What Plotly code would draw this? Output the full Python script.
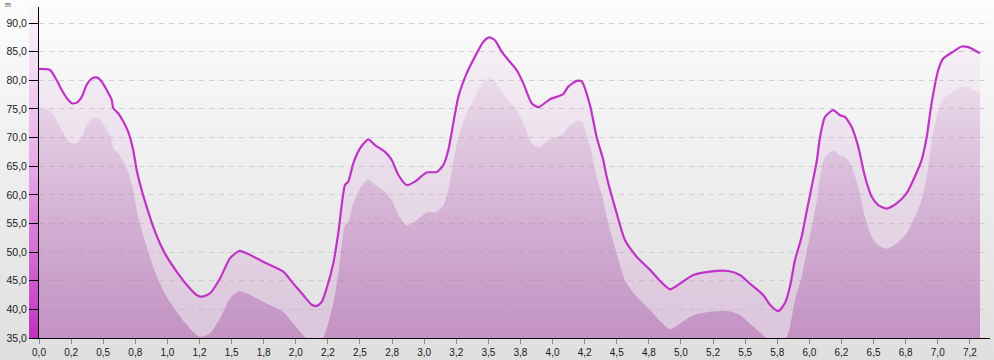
import plotly.graph_objects as go

# ---------------- data (distance in km, elevation in m) ----------------
distance_km = [
    0.000, 0.086, 0.138, 0.177, 0.216, 0.255, 0.294, 0.333, 0.371, 0.410,
    0.449, 0.488, 0.527, 0.566, 0.579, 0.618, 0.657, 0.695, 0.734, 0.761,
    0.800, 0.839, 0.890, 0.942, 0.995, 1.072, 1.150, 1.228, 1.267, 1.332,
    1.410, 1.487, 1.560, 1.617, 1.747, 1.903, 1.981, 2.058, 2.124, 2.163,
    2.202, 2.241, 2.292, 2.331, 2.383, 2.409, 2.448, 2.500, 2.565, 2.617,
    2.695, 2.747, 2.798, 2.864, 2.928, 3.019, 3.097, 3.149, 3.188, 3.266,
    3.331, 3.409, 3.460, 3.507, 3.551, 3.604, 3.668, 3.720, 3.772, 3.837,
    3.889, 3.980, 4.083, 4.122, 4.188, 4.227, 4.291, 4.343, 4.395, 4.421,
    4.499, 4.564, 4.655, 4.759, 4.836, 4.914, 4.992, 5.096, 5.226, 5.368,
    5.460, 5.537, 5.641, 5.693, 5.758, 5.810, 5.849, 5.888, 5.940, 5.979,
    6.018, 6.057, 6.083, 6.122, 6.186, 6.238, 6.277, 6.329, 6.381, 6.433,
    6.485, 6.537, 6.602, 6.680, 6.758, 6.822, 6.875, 6.914, 6.952, 7.004,
    7.043, 7.121, 7.186, 7.238, 7.290, 7.329,
]
elevation_m = [
    82.0, 81.8, 80.0, 78.3, 76.9, 76.0, 76.1, 77.1, 79.2, 80.3,
    80.5, 79.8, 78.3, 76.6, 75.1, 74.2, 72.8, 71.0, 67.8, 64.3,
    60.8, 57.9, 54.4, 51.5, 49.2, 46.6, 44.3, 42.5, 42.2, 42.8,
    45.4, 48.9, 50.2, 49.8, 48.3, 46.6, 44.5, 42.5, 40.8, 40.6,
    41.3, 43.7, 48.0, 53.3, 61.7, 62.3, 65.5, 68.1, 69.7, 68.7,
    67.5, 66.1, 63.5, 61.7, 62.3, 63.9, 64.0, 65.2, 67.8, 77.1,
    81.2, 84.7, 86.7, 87.5, 87.0, 85.0, 83.2, 81.8, 79.5, 76.0,
    75.3, 76.7, 77.6, 78.9, 79.9, 79.8, 75.7, 70.1, 66.1, 63.2,
    56.8, 52.1, 49.2, 46.9, 45.0, 43.5, 44.5, 46.0, 46.6, 46.7,
    46.0, 44.5, 42.5, 40.8, 39.7, 41.1, 44.0, 48.6, 52.7, 57.1,
    61.4, 65.8, 70.1, 73.6, 74.8, 73.9, 73.6, 71.9, 68.4, 63.2,
    59.7, 58.2, 57.6, 58.5, 60.3, 63.2, 66.1, 70.1, 76.0, 81.8,
    83.8, 85.0, 85.9, 85.8, 85.2, 84.7,
]

x_tick_values = [0.0, 0.25, 0.5, 0.75, 1.0, 1.25, 1.5, 1.75, 2.0, 2.25,
                 2.5, 2.75, 3.0, 3.25, 3.5, 3.75, 4.0, 4.25, 4.5, 4.75,
                 5.0, 5.25, 5.5, 5.75, 6.0, 6.25, 6.5, 6.75, 7.0, 7.25]
x_tick_labels = ["0,0", "0,2", "0,5", "0,8", "1,0", "1,2", "1,5", "1,8", "2,0", "2,2",
                 "2,5", "2,8", "3,0", "3,2", "3,5", "3,8", "4,0", "4,2", "4,5", "4,8",
                 "5,0", "5,2", "5,5", "5,8", "6,0", "6,2", "6,5", "6,8", "7,0", "7,2"]
y_tick_values = [35, 40, 45, 50, 55, 60, 65, 70, 75, 80, 85, 90]
y_tick_labels = ["35,0", "40,0", "45,0", "50,0", "55,0", "60,0",
                 "65,0", "70,0", "75,0", "80,0", "85,0", "90,0"]
unit_label = "m"

# ---------------- style ----------------
W, H = 994, 360
PLOT_L, PLOT_R, PLOT_T, PLOT_B = 39, 990, 7, 338
X_RANGE = [0, 7.407]
Y_RANGE = [35, 92.8]
SHADOW_OFFSET = 7.0          # drop-shadow offset of the terrain body (m)
LINE_COLOR = "#bf33c6"
FONT = "Liberation Sans, Arial, sans-serif"

fig = go.Figure()

# full-paper decoration axes (pixel space): background gradient + colour strip
fig.add_trace(go.Scatter(
    x=[0, W, W, 0, 0], y=[0, 0, H, H, 0], mode="lines", line=dict(width=0),
    fill="toself", xaxis="x", yaxis="y", hoverinfo="skip", showlegend=False,
    fillgradient=dict(type="vertical", start=0, stop=H,
                      colorscale=[[0, "#fcfcfc"], [1, "#dfdfdf"]]),
))
fig.add_trace(go.Scatter(
    x=[PLOT_L - 10, PLOT_L, PLOT_L, PLOT_L - 10, PLOT_L - 10],
    y=[PLOT_T, PLOT_T, PLOT_B, PLOT_B, PLOT_T], mode="lines", line=dict(width=0),
    fill="toself", xaxis="x", yaxis="y", hoverinfo="skip", showlegend=False,
    fillgradient=dict(type="vertical", start=PLOT_T, stop=PLOT_B,
                      colorscale=[[0, "#fcf6fc"], [0.5, "#e6a6e6"], [1, "#c030c0"]]),
))

# light band under the profile line
fig.add_trace(go.Scatter(
    x=distance_km, y=elevation_m, mode="lines", line=dict(width=0, shape="spline", smoothing=0.6),
    fill="tozeroy", xaxis="x2", yaxis="y2", hoverinfo="skip", showlegend=False,
    fillgradient=dict(type="vertical", start=Y_RANGE[0], stop=Y_RANGE[1],
                      colorscale=[[0, "rgba(200,100,200,0.22)"], [1, "rgba(200,100,200,0.04)"]]),
))
# darker terrain body (shadow)
fig.add_trace(go.Scatter(
    x=distance_km, y=[v - SHADOW_OFFSET for v in elevation_m], mode="lines",
    line=dict(width=0, shape="spline", smoothing=0.6),
    fill="tozeroy", xaxis="x2", yaxis="y2", hoverinfo="skip", showlegend=False,
    fillgradient=dict(type="vertical", start=Y_RANGE[0], stop=Y_RANGE[1],
                      colorscale=[[0, "rgba(160,70,160,0.40)"], [1, "rgba(160,70,160,0.0)"]]),
))
# profile line
fig.add_trace(go.Scatter(
    x=distance_km, y=elevation_m, mode="lines",
    line=dict(color=LINE_COLOR, width=2.2, shape="spline", smoothing=0.6),
    xaxis="x2", yaxis="y2", showlegend=False,
))

fig.update_layout(
    width=W, height=H,
    margin=dict(l=0, r=0, t=0, b=0, pad=0),
    paper_bgcolor="#eeeeee",
    plot_bgcolor="rgba(0,0,0,0)",
    showlegend=False,
    xaxis=dict(domain=[0, 1], range=[0, W], visible=False, fixedrange=True),
    yaxis=dict(domain=[0, 1], range=[H, 0], visible=False, fixedrange=True),
    xaxis2=dict(
        domain=[PLOT_L / W, PLOT_R / W], range=X_RANGE, anchor="y2",
        showgrid=False, zeroline=False, automargin=False,
        showline=True, linecolor="#000000", linewidth=1,
        ticks="outside", ticklen=5, tickcolor="#8a8a8a", tickwidth=1,
        tickvals=x_tick_values, ticktext=x_tick_labels,
        tickfont=dict(family=FONT, size=10, color="#1a1a1a"),
    ),
    yaxis2=dict(
        domain=[(H - PLOT_B) / H, (H - PLOT_T) / H], range=Y_RANGE, anchor="x2",
        showgrid=True, gridcolor="#d0d0d0", gridwidth=1, griddash="5px,5px",
        zeroline=False, automargin=False,
        showline=True, linecolor="#000000", linewidth=1,
        ticks="outside", ticklen=9, tickcolor="#000000", tickwidth=1,
        tickvals=y_tick_values, ticktext=y_tick_labels,
        tickfont=dict(family=FONT, size=10.5, color="#1a1a1a"),
    ),
    annotations=[dict(
        text=unit_label, xref="paper", yref="paper", x=3 / W, y=1 - 5 / H,
        xanchor="left", yanchor="middle", showarrow=False,
        font=dict(family=FONT, size=7, color="#333333"),
    )],
)

fig.write_html("out.html")
